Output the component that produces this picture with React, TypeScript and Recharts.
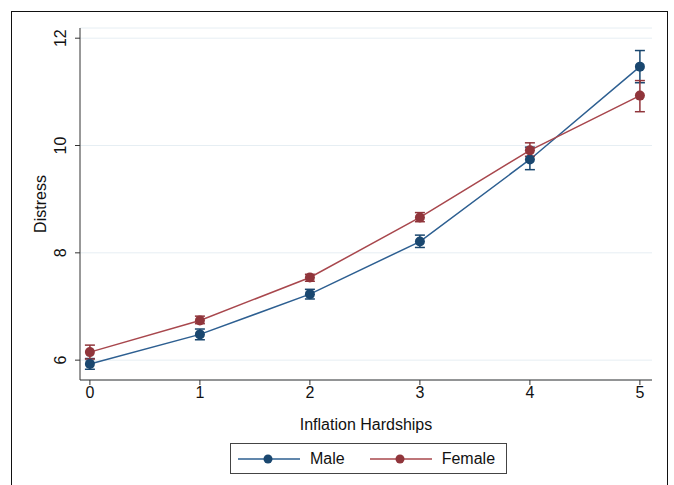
import React from 'react';
import { LineChart, Line, XAxis, YAxis, CartesianGrid, ErrorBar } from 'recharts';

// Inflation hardships (x categories)
const hardships = [0, 1, 2, 3, 4, 5];

// Predicted distress with 95% CI
const maleMean = [5.93, 6.48, 7.23, 8.21, 9.74, 11.47];
const maleLow = [5.83, 6.38, 7.14, 8.1, 9.55, 11.17];
const maleHigh = [6.03, 6.58, 7.32, 8.33, 9.97, 11.77];

const femaleMean = [6.15, 6.74, 7.54, 8.66, 9.91, 10.93];
const femaleLow = [6.02, 6.68, 7.47, 8.58, 9.8, 10.63];
const femaleHigh = [6.28, 6.82, 7.6, 8.75, 10.05, 11.21];

const xTicks = [0, 1, 2, 3, 4, 5];
const yTicks = [6, 8, 10, 12];

const MALE = '#1a476f';
const MALE_LINE = '#2d5f91';
const FEMALE = '#90353b';
const FEMALE_LINE = '#a8474d';
const FONT = '"Liberation Sans", Arial, Helvetica, sans-serif';

const data = hardships.map((h, i) => ({
  x: h,
  male: maleMean[i],
  maleErr: [maleMean[i] - maleLow[i], maleHigh[i] - maleMean[i]],
  female: femaleMean[i],
  femaleErr: [femaleMean[i] - femaleLow[i], femaleHigh[i] - femaleMean[i]]
}));

const YTick = (props: any) => {
  const { x, y, payload } = props;
  return (
    <text
      x={x - 7}
      y={y}
      transform={`rotate(-90, ${x - 7}, ${y})`}
      textAnchor="middle"
      fontSize={16}
      fontFamily={FONT}
      fill="#111"
    >
      {payload.value}
    </text>
  );
};

const LegendItem = ({ color, line, label }: { color: string; line: string; label: string }) => (
  <div style={{ display: 'flex', alignItems: 'center' }}>
    <svg width={64} height={12}>
      <line x1={1} y1={6} x2={63} y2={6} stroke={line} strokeWidth={1.5} />
      <circle cx={31} cy={6} r={4.5} fill={color} />
    </svg>
    <span style={{ marginLeft: 9, fontSize: 16, fontFamily: FONT, color: '#111' }}>{label}</span>
  </div>
);

const App: React.FC = () => {
  return (
    <div
      style={{
        position: 'absolute',
        left: 0,
        top: 0,
        width: 674,
        height: 485,
        overflow: 'hidden',
        background: '#fff'
      }}
    >
      {/* outer frame */}
      <div
        style={{
          position: 'absolute',
          left: 11,
          top: 11,
          width: 655,
          height: 500,
          border: '1.5px solid #111'
        }}
      />
      <div style={{ position: 'absolute', left: 0, top: 0 }}>
        <LineChart
          width={674}
          height={485}
          data={data}
          margin={{ top: 28, right: 22, left: 0, bottom: 45 }}
        >
          <CartesianGrid horizontal vertical={false} stroke="#e6eef3" strokeWidth={1} />
          <XAxis
            dataKey="x"
            type="number"
            domain={[-0.09, 5.11]}
            ticks={xTicks}
            interval={0}
            stroke="#333"
            tickSize={5}
            tick={{ fill: '#111', fontSize: 16, fontFamily: FONT }}
            height={60}
            label={{
              value: 'Inflation Hardships',
              position: 'insideBottom',
              offset: 10,
              fill: '#111',
              fontSize: 16,
              fontFamily: FONT
            }}
          />
          <YAxis
            type="number"
            domain={[5.63, 12.19]}
            ticks={yTicks}
            interval={0}
            stroke="#333"
            tickSize={5}
            width={80}
            tick={<YTick />}
            label={{
              value: 'Distress',
              angle: -90,
              position: 'insideLeft',
              offset: 40,
              fill: '#111',
              fontSize: 16,
              fontFamily: FONT,
              style: { textAnchor: 'middle' }
            }}
          />
          <Line
            dataKey="male"
            stroke={MALE_LINE}
            strokeWidth={1.5}
            dot={{ r: 5, fill: MALE, stroke: MALE, strokeWidth: 0 }}
            isAnimationActive={false}
          >
            <ErrorBar dataKey="maleErr" width={5} stroke={MALE} strokeWidth={1.5} direction="y" />
          </Line>
          <Line
            dataKey="female"
            stroke={FEMALE_LINE}
            strokeWidth={1.5}
            dot={{ r: 5, fill: FEMALE, stroke: FEMALE, strokeWidth: 0 }}
            isAnimationActive={false}
          >
            <ErrorBar dataKey="femaleErr" width={5} stroke={FEMALE} strokeWidth={1.5} direction="y" />
          </Line>
        </LineChart>
      </div>
      {/* legend */}
      <div
        style={{
          position: 'absolute',
          left: 230,
          top: 443,
          width: 277,
          height: 31,
          border: '1px solid #444',
          display: 'flex',
          alignItems: 'center',
          paddingLeft: 6,
          gap: 24,
          boxSizing: 'border-box',
          background: '#fff'
        }}
      >
        <LegendItem color={MALE} line={MALE_LINE} label="Male" />
        <LegendItem color={FEMALE} line={FEMALE_LINE} label="Female" />
      </div>
    </div>
  );
};

export default App;
